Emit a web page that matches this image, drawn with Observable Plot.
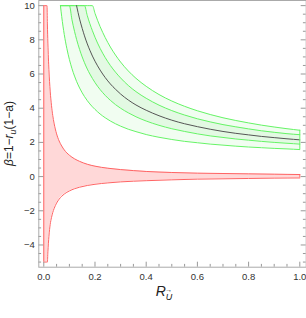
<!DOCTYPE html>
<html><head><meta charset="utf-8">
<script src="https://cdn.jsdelivr.net/npm/d3@7"></script>
<script src="https://cdn.jsdelivr.net/npm/@observablehq/plot@0.6"></script>
<style>body{margin:0;background:#fff}</style>
</head><body><div id="chart"></div>
<script>
// green band: common R grid and five curves (values clipped at the plot top, 10)
const R_G = [0.065,0.07,0.08,0.09,0.1,0.11,0.12,0.128,0.14,0.15,0.159,0.17,0.18,0.19,0.2,0.22,0.24,0.26,0.28,0.3,0.33,0.36,0.4,0.45,0.5,0.55,0.6,0.65,0.7,0.75,0.8,0.85,0.9,0.95,1.0];
const outerLower = [10,9.36,8.31,7.5,6.85,6.32,5.88,5.57,5.18,4.9,4.68,4.44,4.25,4.08,3.93,3.66,3.44,3.25,3.09,2.95,2.77,2.63,2.46,2.3,2.17,2.06,1.98,1.9,1.84,1.78,1.73,1.69,1.65,1.62,1.58];
const innerLower = [10,10,10,10,10,9.18,8.5,8.03,7.43,7.0,6.66,6.29,6.0,5.74,5.5,5.09,4.75,4.46,4.21,4.0,3.73,3.5,3.25,3.0,2.8,2.64,2.5,2.38,2.29,2.2,2.13,2.06,2.0,1.95,1.9];
const center = [10,10,10,10,10,10,10,10,9.21,8.67,8.23,7.76,7.39,7.05,6.75,6.23,5.79,5.42,5.11,4.83,4.48,4.19,3.88,3.56,3.3,3.09,2.92,2.77,2.64,2.53,2.44,2.35,2.28,2.21,2.15];
const innerUpper = [10,10,10,10,10,10,10,10,10,10,10,9.41,8.94,8.53,8.15,7.5,6.96,6.5,6.11,5.77,5.33,4.97,4.58,4.18,3.86,3.6,3.38,3.2,3.04,2.91,2.79,2.68,2.59,2.51,2.45];
const outerUpper = [10,10,10,10,10,10,10,10,10,10,10,10,10,10,9.55,8.77,8.13,7.58,7.11,6.7,6.18,5.75,5.28,4.8,4.42,4.11,3.85,3.63,3.44,3.28,3.14,3.01,2.9,2.8,2.71];

// red band (clipped at 10 and -5)
const R_RED = [0,0.005,0.01,0.0125,0.014,0.016,0.018,0.02,0.025,0.03,0.035,0.04,0.05,0.06,0.07,0.08,0.1,0.12,0.14,0.17,0.2,0.25,0.3,0.35,0.4,0.5,0.6,0.7,0.8,0.9,1.0];
const redUpper = [10,10,10,10,8.93,7.81,6.94,6.25,5.0,4.17,3.57,3.13,2.5,2.08,1.79,1.56,1.25,1.04,0.89,0.72,0.61,0.49,0.41,0.35,0.3,0.24,0.2,0.18,0.16,0.14,0.12];
const redLower = [-5,-5,-5,-5,-5,-4.4,-3.9,-3.5,-2.8,-2.4,-2.1,-1.88,-1.55,-1.32,-1.15,-1.02,-0.84,-0.71,-0.62,-0.52,-0.45,-0.37,-0.31,-0.27,-0.24,-0.19,-0.15,-0.13,-0.11,-0.09,-0.08];

const xTicks = [0,0.2,0.4,0.6,0.8,1.0];
const yTicks = [-4,-2,0,2,4,6,8,10];

const green = R_G.map((r,i)=>({r, ol:outerLower[i], il:innerLower[i], c:center[i], iu:innerUpper[i], ou:outerUpper[i]}));
const red = R_RED.map((r,i)=>({r, lo:redLower[i], up:redUpper[i]}));
const cStart = center.lastIndexOf(10);
const centerLine = green.slice(cStart);

const W=306, H=318, mt=0, mb=51.3, ml=38.3, mr=0.3;
const pw=W-ml-mr, ph=H-mt-mb;
const xMinor = d3.range(0,1.0001,0.05).filter(v=>!xTicks.some(t=>Math.abs(t-v)<1e-6));
const yMinor = d3.range(-5,10.0001,0.5).filter(v=>!yTicks.some(t=>Math.abs(t-v)<1e-6));

const GL="#66f466", RL="#ff6464", TK="#999";
const curve="monotone-x";
const plot = Plot.plot({
  width:W, height:H, marginTop:mt, marginBottom:mb, marginLeft:ml, marginRight:mr,
  style:{fontFamily:"'Liberation Sans', Arial, sans-serif", fontSize:"9.5px", color:"#333", background:"white", overflow:"visible"},
  x:{domain:[-0.0195,1.025]},
  y:{domain:[-5.3,10.3]},
  marks:[
    Plot.areaY(red,{x:"r", y1:"lo", y2:"up", fill:"#ffd8d8", curve}),
    Plot.areaY(green,{x:"r", y1:"ol", y2:"ou", fill:"#f1fdf1", curve}),
    Plot.areaY(green,{x:"r", y1:"il", y2:"iu", fill:"#e3f9e3", curve}),
    Plot.line(red,{x:"r", y:"up", stroke:RL, strokeWidth:1, curve}),
    Plot.line(red,{x:"r", y:"lo", stroke:RL, strokeWidth:1, curve}),
    Plot.ruleX([red[0], red[red.length-1]],{x:"r", y1:"lo", y2:"up", stroke:RL, strokeWidth:1}),
    ...["ol","il","iu","ou"].map(k=>Plot.line(green,{x:"r", y:k, stroke:GL, strokeWidth:1, curve})),
    Plot.line(centerLine,{x:"r", y:"c", stroke:"#555", strokeWidth:1, curve}),
    Plot.ruleX([green[green.length-1]],{x:"r", y1:"ol", y2:"ou", stroke:GL, strokeWidth:1}),
    // inward frame ticks
    Plot.tickX(xTicks,{x:d=>d, insetTop:ph-5, stroke:TK}),
    Plot.tickX(xMinor,{x:d=>d, insetTop:ph-2.8, stroke:TK}),
    Plot.tickY(yTicks,{y:d=>d, insetRight:pw-5, stroke:TK}),
    Plot.tickY(yMinor,{y:d=>d, insetRight:pw-2.8, stroke:TK}),
    Plot.tickY(yTicks,{y:d=>d, insetLeft:pw-5, stroke:TK}),
    Plot.tickY(yMinor,{y:d=>d, insetLeft:pw-2.8, stroke:TK}),
    Plot.axisX(xTicks,{tickSize:0, tickPadding:6, tickFormat:d3.format(".1f"), label:null, fill:"#333"}),
    Plot.axisY(yTicks,{tickSize:0, tickPadding:4, label:null, fill:"#333"}),
    Plot.frame({stroke:"#aaa"})
  ]
});
const svg = d3.select(plot);
const xl = svg.append("text").attr("x",164).attr("y",296)
  .attr("font-family","'Liberation Sans', Arial, sans-serif").attr("font-size",14).attr("fill","#222");
xl.append("tspan").attr("font-style","italic").text("R");
xl.append("tspan").attr("font-style","italic").attr("font-size",9).attr("dy",4).text("U");
xl.append("tspan").attr("font-size",7).attr("dx",-7).attr("dy",-8).text("\u2192");
const yl = svg.append("text").attr("transform","translate(13,133.5) rotate(-90)").attr("text-anchor","middle")
  .attr("font-family","'Liberation Sans', Arial, sans-serif").attr("font-size",12).attr("fill","#222");
yl.append("tspan").attr("font-style","italic").text("β");
yl.append("tspan").text("=1\u2212");
yl.append("tspan").attr("font-style","italic").text("r");
yl.append("tspan").attr("font-style","italic").attr("font-size",9).attr("dy",3).text("u");
yl.append("tspan").attr("dy",-3).text("(1\u2212a)");
document.getElementById("chart").appendChild(plot);
</script>
</body></html>
